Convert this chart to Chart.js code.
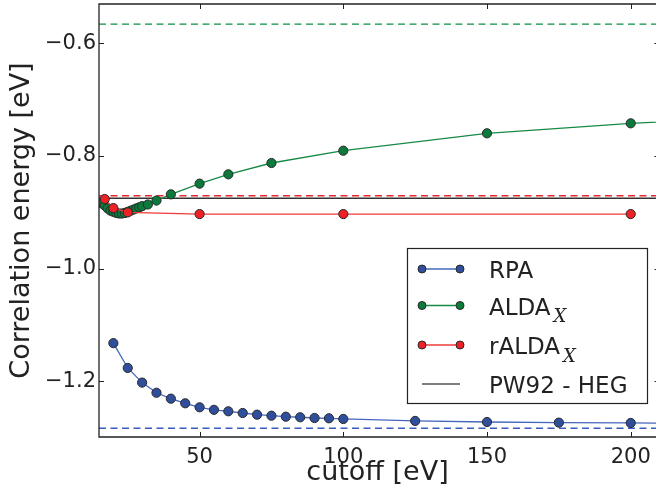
<!DOCTYPE html>
<html><head><meta charset="utf-8">
<script src="https://cdn.jsdelivr.net/npm/chart.js@4"></script>
<style>
html,body{margin:0;padding:0;background:#fff;overflow:hidden}
#wrap{position:relative;width:656px;height:496px}
canvas{display:block}
</style>
</head><body><div id="wrap"><canvas id="c" width="656" height="496" style="width:656px;height:496px"></canvas></div>
<script>
// ---- data ----
const xTicks = [50, 100, 150, 200];
const yTicks = [-1.2, -1.0, -0.8, -0.6];

const cutoffRPA = [20,25,30,35,40,45,50,55,60,65,70,75,80,85,90,95,100,125,150,175,200,250];
const rpa = [-1.132,-1.176,-1.202,-1.220,-1.2305,-1.2387,-1.2458,-1.2503,-1.2529,-1.2559,-1.2589,-1.2607,-1.2625,-1.2635,-1.2648,-1.2653,-1.2665,-1.270,-1.2719,-1.273,-1.2736,-1.2745];

const cutoffALDA = [16,17,18,19,20,21,22,23,24,25,26,27,28,29,30,32,35,40,50,60,75,100,150,200,250];
const aldaX = [-0.884,-0.888,-0.893,-0.897,-0.899,-0.901,-0.902,-0.902,-0.901,-0.899,-0.897,-0.895,-0.893,-0.891,-0.889,-0.886,-0.879,-0.868,-0.849,-0.8325,-0.8124,-0.7906,-0.7597,-0.742,-0.729];

const cutoffRALDA = [17,20,25,50,100,200];
const raldaX = [-0.8763,-0.8924,-0.900,-0.903,-0.903,-0.903];

const refRPA = -1.283;     // blue dashed
const refALDA = -0.566;    // green dashed
const refRALDA = -0.8705;  // red dashed
const pw92HEG = -0.875;    // black solid

const legendLabels = ['RPA', 'ALDA', 'rALDA', 'PW92 - HEG'];
const legendSubs = ['', 'X', 'X', ''];

// ---- chart ----
const FONT = "'DejaVu Sans', sans-serif";
const xMin = 15, xMax = 208.8, yMin = -1.2985, yMax = -0.5303;
const pts = (xs, ys) => xs.map((x, i) => ({x: x, y: ys[i]}));
const hline = v => [{x: xMin, y: v}, {x: xMax + 5, y: v}];

const C = {
  blue: {line: '#4467bd', fill: '#2f4f9d', dash: '#3a5cc0'},
  green: {line: '#178a45', fill: '#0b7a3b', dash: '#0a9045'},
  red: {line: '#f03a3a', fill: '#ee2226', dash: '#e8262b'},
  black: '#333333'
};

function series(label, data, col, order) {
  return {label, data, borderColor: col.line, backgroundColor: col.fill,
    pointBackgroundColor: col.fill, pointBorderColor: '#2a2a2a', pointBorderWidth: 1,
    pointRadius: 4.6, borderWidth: 1.3, tension: 0, order};
}
function refLine(label, v, color, dash, order, width) {
  return {label, data: hline(v), borderColor: color, borderWidth: width || 1.3,
    borderDash: dash, pointRadius: 0, tension: 0, order};
}

const datasets = [
  series('RPA', pts(cutoffRPA, rpa), C.blue, 2),
  series('ALDA_X', pts(cutoffALDA, aldaX), C.green, 1),
  series('rALDA_X', pts(cutoffRALDA, raldaX), C.red, 0),
  refLine('PW92 - HEG', pw92HEG, C.black, [], 3, 1.5),
  refLine('ref RPA', refRPA, C.blue.dash, [7, 4.5], 4),
  refLine('ref ALDA', refALDA, C.green.dash, [7, 4.5], 4),
  refLine('ref rALDA', refRALDA, C.red.dash, [7, 4.5], 4)
];

const framePlugin = {
  id: 'frame',
  afterDraw(chart) {
    const {ctx, chartArea: a, scales: {x, y}} = chart;
    ctx.save();
    ctx.strokeStyle = '#222';
    ctx.lineWidth = 1.3;
    ctx.beginPath();
    ctx.moveTo(a.right + 2, a.top); ctx.lineTo(a.left, a.top);
    ctx.lineTo(a.left, a.bottom); ctx.lineTo(a.right + 2, a.bottom);
    ctx.stroke();
    const L = 5;
    ctx.lineWidth = 1;
    ctx.beginPath();
    xTicks.forEach(v => {
      const px = Math.round(x.getPixelForValue(v)) + 0.5;
      ctx.moveTo(px, a.bottom); ctx.lineTo(px, a.bottom - L);
      ctx.moveTo(px, a.top); ctx.lineTo(px, a.top + L);
    });
    yTicks.forEach(v => {
      const py = Math.round(y.getPixelForValue(v)) + 0.5;
      ctx.moveTo(a.left, py); ctx.lineTo(a.left + L, py);
      ctx.moveTo(a.right, py); ctx.lineTo(a.right - 1.5, py);
    });
    ctx.stroke();
    ctx.restore();
  }
};

const legendPlugin = {
  id: 'customLegend',
  afterDraw(chart) {
    const ctx = chart.ctx;
    const box = {x: 407.5, y: 248.5, w: 240, h: 155};
    const rowsY = [269, 305.5, 345, 384];
    const cols = [C.blue, C.green, C.red, null];
    ctx.save();
    ctx.fillStyle = '#fff';
    ctx.fillRect(box.x, box.y, box.w, box.h);
    ctx.strokeStyle = '#222';
    ctx.lineWidth = 1.2;
    ctx.strokeRect(box.x, box.y, box.w, box.h);
    legendLabels.forEach((lab, i) => {
      const yy = rowsY[i];
      const col = cols[i];
      ctx.beginPath();
      ctx.moveTo(422, yy); ctx.lineTo(460, yy);
      ctx.strokeStyle = col ? col.line : '#555';
      ctx.lineWidth = col ? 1.3 : 1.5;
      ctx.stroke();
      if (col) {
        [422, 460].forEach(px => {
          ctx.beginPath();
          ctx.arc(px, yy, 4, 0, Math.PI * 2);
          ctx.fillStyle = col.fill; ctx.fill();
          ctx.strokeStyle = '#2a2a2a'; ctx.lineWidth = 1; ctx.stroke();
        });
      }
      ctx.fillStyle = '#222';
      ctx.font = '23px ' + FONT;
      ctx.textBaseline = 'alphabetic';
      ctx.textAlign = 'left';
      ctx.fillText(lab, 489, yy + 9);
      if (legendSubs[i]) {
        const w = ctx.measureText(lab).width;
        ctx.font = 'italic 18px "DejaVu Serif", serif';
        ctx.fillText(legendSubs[i], 489 + w + 3, yy + 16.5);
      }
    });
    ctx.restore();
  }
};

const noPad = s => { s.paddingTop = 0; s.paddingBottom = 0; s.paddingLeft = 0; s.paddingRight = 0; };

new Chart(document.getElementById('c'), {
  type: 'line',
  data: {datasets},
  options: {
    responsive: false,
    animation: false,
    devicePixelRatio: 1,
    layout: {autoPadding: false, padding: {top: 4, right: 0, bottom: 0, left: 0}},
    plugins: {legend: {display: false}, tooltip: {enabled: false}},
    scales: {
      x: {
        type: 'linear', min: xMin, max: xMax,
        afterBuildTicks: s => { s.ticks = xTicks.map(v => ({value: v})); },
        afterFit: s => { s.height = 59; noPad(s); },
        grid: {display: false, drawTicks: false},
        border: {display: false},
        ticks: {font: {family: FONT, size: 21}, color: '#222', padding: 8, maxRotation: 0,
          callback: v => String(v)},
        title: {display: true, text: 'cutoff [eV]', font: {family: FONT, size: 27},
          color: '#222', padding: {top: 0, bottom: 7}}
      },
      y: {
        type: 'linear', min: yMin, max: yMax,
        afterBuildTicks: s => { s.ticks = yTicks.map(v => ({value: v})); },
        afterFit: s => { s.width = 99; noPad(s); },
        grid: {display: false, drawTicks: false},
        border: {display: false},
        ticks: {font: {family: FONT, size: 21}, color: '#222', padding: 3,
          callback: v => (v < 0 ? '\u2212' : '') + Math.abs(v).toFixed(1)},
        title: {display: true, text: 'Correlation energy [eV]', font: {family: FONT, size: 27},
          color: '#222', padding: {top: 6, bottom: 0}}
      }
    }
  },
  plugins: [framePlugin, legendPlugin]
});
</script>
</body></html>
